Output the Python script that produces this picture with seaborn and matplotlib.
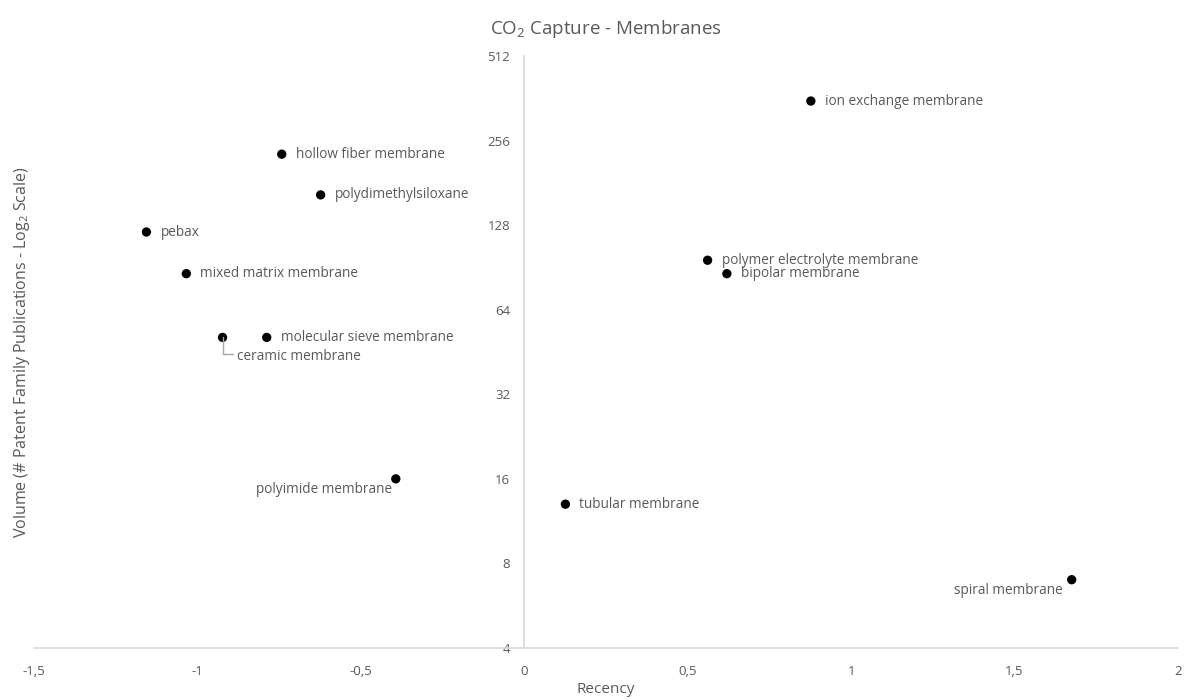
import numpy as np
import pandas as pd
import seaborn as sns
from matplotlib import pyplot as plt
from matplotlib.ticker import FixedLocator, FuncFormatter

# dane
labels = ['ion exchange membrane', 'hollow fiber membrane', 'polydimethylsiloxane', 'pebax',
          'mixed matrix membrane', 'polymer electrolyte membrane', 'bipolar membrane',
          'molecular sieve membrane', 'ceramic membrane', 'polyimide membrane',
          'tubular membrane', 'spiral membrane']
recency = [0.877, -0.742, -0.623, -1.156, -1.034, 0.561, 0.620, -0.788, -0.923, -0.393, 0.126, 1.675]
volume = [354, 229, 164, 121, 86, 96, 86, 51, 51, 16, 13, 7]
y_ticks = [4, 8, 16, 32, 64, 128, 256, 512]
x_ticks = [-1.5, -1, -0.5, 0, 0.5, 1, 1.5, 2]

df = pd.DataFrame({'label': labels, 'Recency': recency, 'Volume': volume})

sns.set_style('white')
plt.rcParams['font.family'] = ['Open Sans', 'DejaVu Sans']
plt.rcParams['mathtext.fontset'] = 'custom'
plt.rcParams['mathtext.rm'] = 'Open Sans'

txt = '#595959'
line = '#d9d9d9'

fig = plt.figure(figsize=(11.85, 7), dpi=100)
ax = fig.add_axes([0.0287, 0.0743, 0.9653, 0.8457])

sns.scatterplot(data=df, x='Recency', y='Volume', color='black', s=45, edgecolor='none', ax=ax)

ax.set_yscale('log', base=2)
ax.set_ylim(4, 512)
ax.set_xlim(-1.5, 2)
ax.yaxis.set_major_locator(FixedLocator(y_ticks))
ax.yaxis.set_minor_locator(FixedLocator([]))
ax.yaxis.set_major_formatter(FuncFormatter(lambda v, p: '%d' % v))
ax.xaxis.set_major_locator(FixedLocator(x_ticks))
ax.xaxis.set_major_formatter(FuncFormatter(lambda v, p: ('%g' % v).replace('.', ',')))

ax.spines['left'].set_position(('data', 0))
for s in ['top', 'right']:
    ax.spines[s].set_visible(False)
for s in ['left', 'bottom']:
    ax.spines[s].set_color(line)
    ax.spines[s].set_linewidth(1.2)
ax.tick_params(axis='both', colors=txt, labelsize=9.5, length=0, pad=12)
ax.tick_params(axis='y', pad=10)

ax.set_xlabel('Recency', color=txt, fontsize=11, labelpad=3)
ax.set_ylabel('Volume (# Patent Family Publications - Log$_\\mathregular{2}$ Scale)', color=txt, fontsize=11.5)
ax.set_title('CO$_\\mathregular{2}$ Capture - Membranes', color=txt, fontsize=13.5, pad=16)

# etykiety punktow: (dx, dy, wyrownanie) w pikselach
offsets = {
    'polyimide membrane': (-4, -11, 'right'),
    'spiral membrane': (-9, -11, 'right'),
    'ceramic membrane': (14, -19, 'left'),
}
for lab, x, y in zip(labels, recency, volume):
    dx, dy, ha = offsets.get(lab, (14, 0, 'left'))
    ax.annotate(lab, (x, y), xytext=(dx * 0.72, dy * 0.72), textcoords='offset points',
                ha=ha, va='center', fontsize=9.8, color=txt)

# linia prowadzaca dla ceramic membrane
i = labels.index('ceramic membrane')
ax.annotate('', (recency[i], volume[i]), xytext=(10 * 0.72, -17 * 0.72), textcoords='offset points',
            arrowprops=dict(arrowstyle='-', color='#a6a6a6', lw=1,
                            connectionstyle='angle,angleA=0,angleB=90,rad=0', shrinkA=0, shrinkB=0))

ax.yaxis.set_label_coords(-0.0015, 0.5)
fig.savefig('out.png', dpi=100)
